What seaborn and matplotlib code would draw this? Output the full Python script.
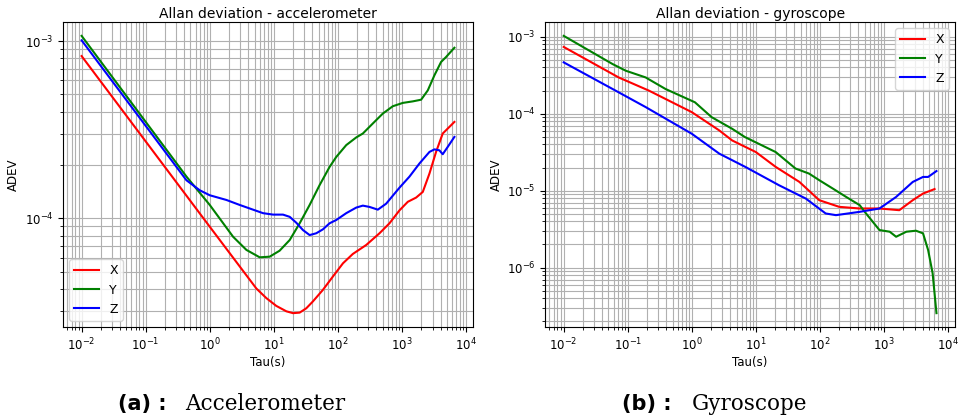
import matplotlib
matplotlib.use("Agg")
import matplotlib.pyplot as plt
import seaborn as sns
import pandas as pd

# accelerometer allan deviation
acc_x_tau = [0.01, 1.0, 5.34, 7.64, 10.9, 15.7, 19.9, 25.3, 32.1, 40.7, 58.3, 83.6, 120, 171,
             277, 446, 638, 915, 1233, 1663, 2113, 2685, 3404, 4325, 5176, 6577]
acc_x_dev = [8.23e-4, 8.97e-5, 4.02e-5, 3.55e-5, 3.21e-5, 2.99e-5, 2.92e-5, 2.94e-5, 3.11e-5,
             3.40e-5, 3.95e-5, 4.70e-5, 5.58e-5, 6.30e-5, 7.08e-5, 8.24e-5, 9.38e-5, 1.11e-4,
             1.24e-4, 1.31e-4, 1.41e-4, 1.79e-4, 2.37e-4, 3.01e-4, 3.21e-4, 3.50e-4]

acc_y_tau = [0.01, 0.433, 1.0, 2.31, 3.73, 6.01, 8.61, 12.3, 17.7, 25.3, 36.2, 51.8, 74.1, 94.2,
             135, 193, 245, 351, 502, 719, 1030, 1475, 1990, 2528, 3208, 4074, 4875, 6577]
acc_y_dev = [1.07e-3, 1.72e-4, 1.19e-4, 7.88e-5, 6.64e-5, 6.03e-5, 6.08e-5, 6.57e-5, 7.55e-5,
             9.38e-5, 1.19e-4, 1.54e-4, 1.95e-4, 2.22e-4, 2.59e-4, 2.86e-4, 3.01e-4, 3.43e-4,
             3.90e-4, 4.29e-4, 4.48e-4, 4.57e-4, 4.67e-4, 5.27e-4, 6.41e-4, 7.62e-4, 8.13e-4,
             9.17e-4]

acc_z_tau = [0.01, 0.433, 0.698, 1.0, 1.82, 2.94, 4.73, 6.78, 9.71, 13.9, 17.7, 22.4, 28.5, 36.2,
             45.9, 58.3, 74.1, 94.2, 135, 193, 245, 312, 420, 566, 915, 1309, 1875, 2685, 3208,
             3837, 4325, 5176, 6577]
acc_z_dev = [1.01e-3, 1.64e-4, 1.44e-4, 1.35e-4, 1.27e-4, 1.19e-4, 1.12e-4, 1.07e-4, 1.05e-4,
             1.05e-4, 1.02e-4, 9.45e-5, 8.59e-5, 8.05e-5, 8.24e-5, 8.67e-5, 9.38e-5, 9.79e-5,
             1.07e-4, 1.15e-4, 1.18e-4, 1.16e-4, 1.12e-4, 1.21e-4, 1.49e-4, 1.72e-4, 2.04e-4,
             2.37e-4, 2.45e-4, 2.42e-4, 2.30e-4, 2.53e-4, 2.88e-4]

# gyroscope allan deviation
gyr_x_tau = [0.01, 0.072, 0.214, 1.0, 2.69, 4.27, 10.0, 20.4, 47.9, 97.7, 200, 417, 851, 1738,
             2818, 4074, 6166]
gyr_x_dev = [7.4e-4, 2.97e-4, 2.0e-4, 1.05e-4, 6.07e-5, 4.5e-5, 3.18e-5, 2.04e-5, 1.3e-5,
             7.53e-6, 6.17e-6, 5.87e-6, 5.87e-6, 5.58e-6, 7.53e-6, 9.18e-6, 1.05e-5]

gyr_y_tau = [0.01, 0.058, 0.093, 0.19, 0.389, 1.12, 2.04, 4.27, 6.76, 20.4, 41.7, 67.6, 97.7,
             158, 257, 417, 525, 851, 1230, 1549, 2239, 3162, 4074, 4898, 5754, 6607]
gyr_y_dev = [1.03e-3, 4.43e-4, 3.63e-4, 2.97e-4, 2.1e-4, 1.41e-4, 9.04e-5, 6.38e-5, 4.98e-5,
             3.18e-5, 1.94e-5, 1.67e-5, 1.37e-5, 1.07e-5, 8.3e-6, 6.5e-6, 5.06e-6, 3.08e-6,
             2.93e-6, 2.52e-6, 2.93e-6, 3.02e-6, 2.79e-6, 1.69e-6, 8.45e-7, 2.56e-7]

gyr_z_tau = [0.01, 0.058, 0.191, 1.0, 2.69, 6.92, 22.9, 60.3, 123, 178, 417, 851, 1549, 2818,
             4074, 4898, 6607]
gyr_z_dev = [4.66e-4, 2.1e-4, 1.22e-4, 5.5e-5, 3.03e-5, 2.03e-5, 1.18e-5, 7.9e-6, 5.06e-6,
             4.81e-6, 5.31e-6, 5.87e-6, 8.3e-6, 1.3e-5, 1.51e-5, 1.51e-5, 1.8e-5]

axes_names = ["X", "Y", "Z"]
line_colors = {"X": "red", "Y": "green", "Z": "blue"}


def make_frame(taus, devs):
    parts = []
    for name, t, d in zip(axes_names, taus, devs):
        parts.append(pd.DataFrame({"tau": t, "adev": d, "axis": name}))
    return pd.concat(parts, ignore_index=True)


acc = make_frame([acc_x_tau, acc_y_tau, acc_z_tau], [acc_x_dev, acc_y_dev, acc_z_dev])
gyr = make_frame([gyr_x_tau, gyr_y_tau, gyr_z_tau], [gyr_x_dev, gyr_y_dev, gyr_z_dev])

fig = plt.figure(figsize=(9.63, 4.2), dpi=100)
ax1 = fig.add_axes([0.0654, 0.2214, 0.4258, 0.7262])
ax2 = fig.add_axes([0.566, 0.2214, 0.4258, 0.7262])

for ax, df, title, loc in [(ax1, acc, "Allan deviation - accelerometer", "lower left"),
                           (ax2, gyr, "Allan deviation - gyroscope", "upper right")]:
    sns.lineplot(data=df, x="tau", y="adev", hue="axis", palette=line_colors,
                 sort=False, estimator=None, linewidth=1.5, ax=ax)
    ax.set_xscale("log")
    ax.set_yscale("log")
    ax.grid(True, which="both", color="#b0b0b0", linewidth=0.8)
    ax.set_title(title, fontsize=10, pad=3)
    ax.set_xlabel("Tau(s)", fontsize=8.5, labelpad=2)
    ax.set_ylabel("ADEV", fontsize=8.5, labelpad=3)
    ax.tick_params(labelsize=8.5)
    ax.legend(loc=loc, fontsize=9)

# captions under each panel
fig.text(118 / 963, 10 / 420, "(a) :", fontsize=15, fontweight="bold",
         family="DejaVu Sans", va="baseline")
fig.text(185 / 963, 10 / 420, "Accelerometer", fontsize=15.5,
         family="DejaVu Serif", va="baseline")
fig.text(622 / 963, 10 / 420, "(b) :", fontsize=15, fontweight="bold",
         family="DejaVu Sans", va="baseline")
fig.text(692 / 963, 10 / 420, "Gyroscope", fontsize=15.5,
         family="DejaVu Serif", va="baseline")

fig.savefig("out.png", dpi=100)
